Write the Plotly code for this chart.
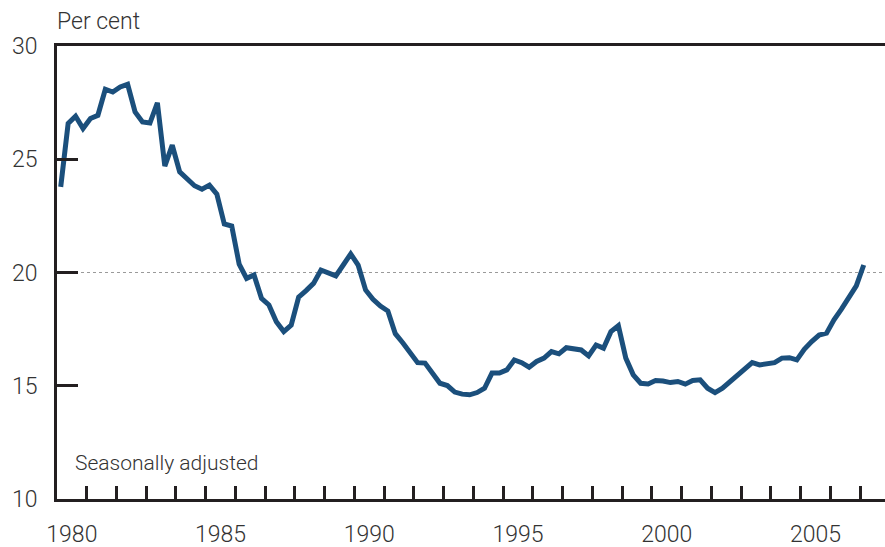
import plotly.graph_objects as go

# Quarterly series, 1980Q1 .. 2007Q1 (per cent, seasonally adjusted)
years = list(range(1980, 2008))
values = [
    23.78, 26.58, 26.90, 26.36,   # 1980
    26.80, 26.94, 28.09, 27.97,   # 1981
    28.19, 28.31, 27.09, 26.65,   # 1982
    26.60, 27.49, 24.70, 25.62,   # 1983
    24.44, 24.15, 23.83, 23.68,   # 1984
    23.86, 23.46, 22.14, 22.05,   # 1985
    20.37, 19.74, 19.89, 18.86,   # 1986
    18.57, 17.83, 17.39, 17.68,   # 1987
    18.91, 19.20, 19.52, 20.11,   # 1988
    19.99, 19.85, 20.33, 20.82,   # 1989
    20.33, 19.23, 18.82, 18.52,   # 1990
    18.30, 17.30, 16.90, 16.44,   # 1991
    16.02, 16.00, 15.58, 15.11,   # 1992
    15.01, 14.72, 14.63, 14.60,   # 1993
    14.70, 14.89, 15.56, 15.56,   # 1994
    15.70, 16.14, 16.02, 15.82,   # 1995
    16.07, 16.22, 16.51, 16.41,   # 1996
    16.68, 16.61, 16.58, 16.32,   # 1997
    16.80, 16.66, 17.39, 17.65,   # 1998
    16.22, 15.48, 15.11, 15.08,   # 1999
    15.23, 15.21, 15.14, 15.19,   # 2000
    15.07, 15.23, 15.26, 14.89,   # 2001
    14.70, 14.89, 15.19, 15.48,   # 2002
    15.78, 16.02, 15.92, 15.97,   # 2003
    16.02, 16.22, 16.24, 16.14,   # 2004
    16.61, 16.95, 17.24, 17.32,   # 2005
    17.91, 18.38, 18.86, 19.41,   # 2006
    20.33,                        # 2007
]
quarters = [(y, q) for y in years for q in range(1, 5)][:len(values)]
x_vals = [y + (q - 0.5) / 4 for (y, q) in quarters]

x_tick_labels = ["1980", "1985", "1990", "1995", "2000", "2005"]
x_tick_years = [1980, 1985, 1990, 1995, 2000, 2005]
x_minor_years = list(range(1981, 2008))
y_ticks = [10, 15, 20, 25, 30]
reference_level = 20

FONT = "Roboto"
TEXT = "#333333"
AXIS = "#231f20"
LINE = "#1b4f7c"

fig = go.Figure()

fig.add_shape(type="line", xref="paper", x0=0, x1=1, yref="y",
              y0=reference_level, y1=reference_level,
              line=dict(color="#9a9a9a", width=1, dash="dot"), layer="below")

fig.add_trace(go.Scatter(x=x_vals, y=values, mode="lines",
                         line=dict(color=LINE, width=5), hoverinfo="skip",
                         showlegend=False))

fig.update_layout(
    width=885, height=547,
    margin=dict(l=57, r=0, t=46, b=48),
    paper_bgcolor="white", plot_bgcolor="white",
    font=dict(family=FONT, size=23, color=TEXT, weight=300),
    xaxis=dict(
        range=[1980, 2007.84],
        automargin=False,
        tickmode="array",
        tickvals=[y + 0.5 for y in x_tick_years],
        ticktext=x_tick_labels,
        ticks="",
        showgrid=False, zeroline=False,
        showline=True, linecolor=AXIS, linewidth=3, mirror=True,
        ticklabelstandoff=12,
        minor=dict(tickmode="array", tickvals=x_minor_years, ticks="inside",
                   ticklen=13, tickwidth=3, tickcolor=AXIS, showgrid=False),
    ),
    yaxis=dict(
        range=[10, 30],
        automargin=False,
        tickmode="array", tickvals=y_ticks,
        ticks="inside", ticklen=21, tickwidth=3, tickcolor=AXIS,
        showgrid=False, zeroline=False,
        showline=True, linecolor=AXIS, linewidth=3,
        ticklabelstandoff=12,
    ),
    annotations=[
        dict(text="Per cent", xref="paper", yref="paper", x=-0.003, y=1.053,
             xanchor="left", yanchor="middle", showarrow=False,
             font=dict(size=23, color=TEXT, family=FONT, weight=300)),
        dict(text="Seasonally adjusted", xref="paper", yref="paper",
             x=0.019, y=0.0795, xanchor="left", yanchor="middle",
             showarrow=False,
             font=dict(size=21, color=TEXT, family=FONT, weight=300)),
    ],
)

# remove the default 8px page margin so the figure fills the window exactly
fig.write_html("out.html", config={"displayModeBar": False},
               post_script="document.body.style.margin='0';")
